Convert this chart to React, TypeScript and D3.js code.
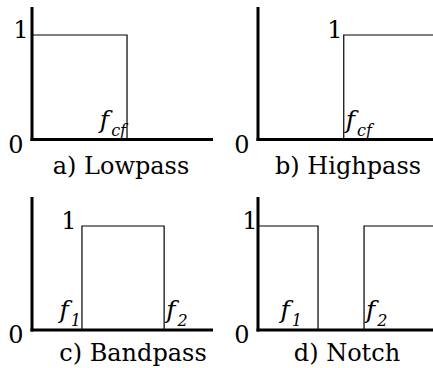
import React from "react";
import * as d3 from "d3";

// Normalised frequency breakpoints and gains for each ideal filter (step after each breakpoint)
const lowpassFreqs = [0, 0.525, 1];
const lowpassGains = [1, 0, 0];
const highpassFreqs = [0, 0.49, 1];
const highpassGains = [0, 1, 1];
const bandpassFreqs = [0, 0.276, 0.73, 1];
const bandpassGains = [0, 1, 0, 0];
const notchFreqs = [0, 0.343, 0.606, 1];
const notchGains = [1, 0, 1, 1];

const titles = ["a) Lowpass", "b) Highpass", "c) Bandpass", "d) Notch"];
const gainTicks = [0, 1];

type FreqLabel = { f: number; sub: string; side: "left" | "right" };
const lowpassLabels: FreqLabel[] = [{ f: 0.525, sub: "cf", side: "left" }];
const highpassLabels: FreqLabel[] = [{ f: 0.49, sub: "cf", side: "right" }];
const bandpassLabels: FreqLabel[] = [
  { f: 0.276, sub: "1", side: "left" },
  { f: 0.73, sub: "2", side: "right" },
];
const notchLabels: FreqLabel[] = [
  { f: 0.343, sub: "1", side: "left" },
  { f: 0.606, sub: "2", side: "right" },
];

const W = 433;
const H = 368;
const FONT = "DejaVu Serif";

type Panel = {
  freqs: number[];
  gains: number[];
  labels: FreqLabel[];
  title: string;
  left: number;
  right: number;
  top: number;
  base: number;
  one: number;
  oneLabelX: number;
  labelGap: number;
  titleX: number;
  titleY: number;
};

const panels: Panel[] = [
  { freqs: lowpassFreqs, gains: lowpassGains, labels: lowpassLabels, title: titles[0],
    left: 32, right: 213, top: 7, base: 139.5, one: 35, oneLabelX: 21, labelGap: 1, titleX: 121, titleY: 174 },
  { freqs: highpassFreqs, gains: highpassGains, labels: highpassLabels, title: titles[1],
    left: 258, right: 433, top: 7, base: 139.5, one: 35, oneLabelX: 335, labelGap: 2, titleX: 348, titleY: 174 },
  { freqs: bandpassFreqs, gains: bandpassGains, labels: bandpassLabels, title: titles[2],
    left: 32, right: 213, top: 197, base: 330, one: 226, oneLabelX: 69, labelGap: 1, titleX: 133, titleY: 361 },
  { freqs: notchFreqs, gains: notchGains, labels: notchLabels, title: titles[3],
    left: 258, right: 433, top: 197, base: 330, one: 226, oneLabelX: 250, labelGap: 16, titleX: 347, titleY: 361 },
];

function FilterPanel({ p }: { p: Panel }) {
  const x = d3.scaleLinear().domain([0, 1]).range([p.left, p.right]);
  const y = d3.scaleLinear().domain([0, 1]).range([p.base, p.one]);
  const pts = p.freqs.map((f, i) => [f, p.gains[i]] as [number, number]);
  const line = d3
    .line<[number, number]>()
    .x((d) => x(d[0]))
    .y((d) => y(d[1]))
    .curve(d3.curveStepAfter);

  return (
    <g>
      <path d={line(pts) ?? ""} fill="none" stroke="#000" strokeWidth={1.2} />
      {/* axes */}
      <line x1={p.left} x2={p.left} y1={p.top} y2={p.base + 1.5} stroke="#000" strokeWidth={3} />
      <line x1={p.left - 1.5} x2={p.right} y1={p.base} y2={p.base} stroke="#000" strokeWidth={3} />
      {/* gain labels */}
      <text x={p.left - 16} y={y(gainTicks[0]) + 13} fontSize={24} textAnchor="middle">
        {gainTicks[0]}
      </text>
      <text x={p.oneLabelX} y={y(gainTicks[1]) + 3} fontSize={24} textAnchor="middle">
        {gainTicks[1]}
      </text>
      {/* cutoff frequency labels */}
      {p.labels.map((l, i) => (
        <text
          key={i}
          x={l.side === "left" ? x(l.f) - p.labelGap : x(l.f) + 2}
          y={p.base - 12}
          fontStyle="italic"
          textAnchor={l.side === "left" ? "end" : "start"}
        >
          <tspan fontSize={25}>f</tspan>
          <tspan fontSize={16} dx={2} dy={8}>{l.sub}</tspan>
        </text>
      ))}
      <text x={p.titleX} y={p.titleY} fontSize={24} textAnchor="middle">
        {p.title}
      </text>
    </g>
  );
}

export default function App() {
  return (
    <svg width={W} height={H} viewBox={`0 0 ${W} ${H}`} fontFamily={FONT} style={{ display: "block", position: "absolute", left: 0, top: 0, background: "#fff" }}>
      <rect width={W} height={H} fill="#fff" />
      {panels.map((p, i) => (
        <FilterPanel key={i} p={p} />
      ))}
    </svg>
  );
}
